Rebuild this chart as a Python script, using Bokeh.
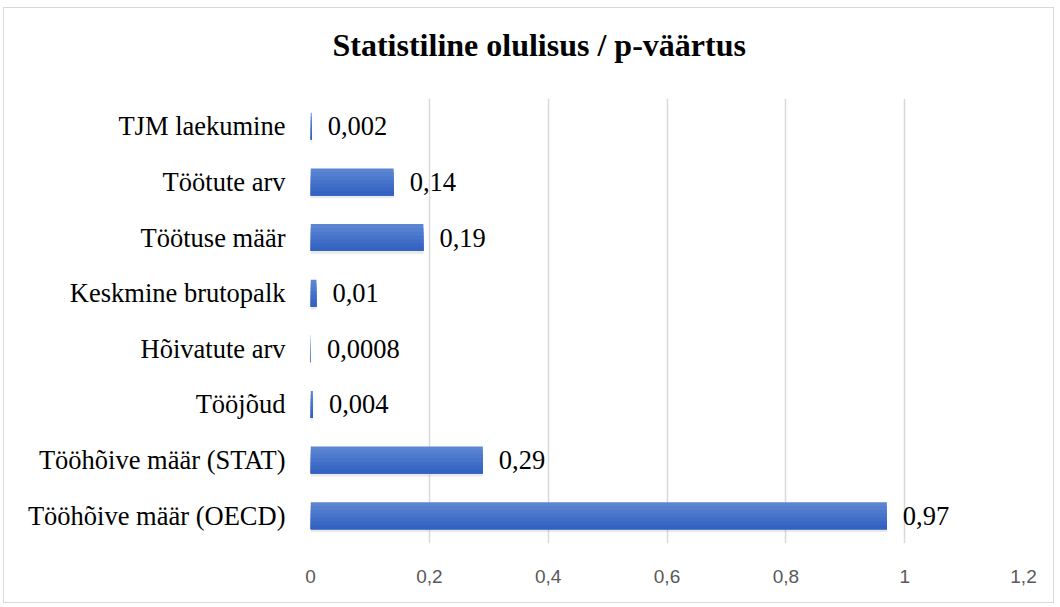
from bokeh.plotting import figure
from bokeh.models import ColumnDataSource, FixedTicker, LinearAxis
from bokeh.transform import dodge
from bokeh.core.properties import value
from bokeh.embed import file_html
from bokeh.resources import INLINE

title_text = "Statistiline olulisus / p-väärtus"
categories = ["TJM laekumine", "Töötute arv", "Töötuse määr", "Keskmine brutopalk",
              "Hõivatute arv", "Tööjõud", "Tööhõive määr (STAT)", "Tööhõive määr (OECD)"]
p_values = [0.002, 0.14, 0.19, 0.01, 0.0008, 0.004, 0.29, 0.97]
value_labels = ["0,002", "0,14", "0,19", "0,01", "0,0008", "0,004", "0,29", "0,97"]
tick_values = [0, 0.2, 0.4, 0.6, 0.8, 1.0, 1.2]
tick_labels = ["0", "0,2", "0,4", "0,6", "0,8", "1", "1,2"]

src = ColumnDataSource(dict(cat=categories, val=p_values, lab=value_labels))

p = figure(width=1051, height=596, output_backend="svg", toolbar_location=None,
           y_range=categories[::-1], x_range=(0, 1.2),
           min_border_left=306, min_border_right=32, min_border_top=90, min_border_bottom=61)
p.outline_line_color = None
p.styles = {"border": "1px solid #D9D9D9", "margin-left": "3px", "margin-top": "7px"}

xa = p.below[0]
ya = p.left[0]

# invisible spacer between frame and title: ticks and labels are not drawn,
# but the tick length still reserves vertical space
spacer = LinearAxis(ticker=FixedTicker(ticks=[0.6]), axis_line_color=None,
                    major_tick_line_color=None, minor_tick_line_color=None,
                    major_tick_out=30, major_tick_in=0, major_label_standoff=0,
                    major_label_text_font_size="1px", major_label_text_color=None)
p.add_layout(spacer, "above")

p.title.text = title_text
p.title.align = "left"
p.title.offset = 22
p.title.standoff = 12
p.title.text_font = "Liberation Serif"
p.title.text_font_style = "bold"
p.title.text_font_size = "32px"
p.title.text_color = "#000000"

# grid and axes
xa.ticker = FixedTicker(ticks=tick_values)
p.xgrid.ticker = FixedTicker(ticks=tick_values)
p.xgrid.grid_line_color = "#D9D9D9"
p.xgrid.grid_line_width = 1.5
p.ygrid.grid_line_color = None
xa.major_label_overrides = {t: l for t, l in zip(tick_values, tick_labels)}
for ax in (xa, ya):
    ax.axis_line_color = None
    ax.major_tick_line_color = None
    ax.minor_tick_line_color = None
    ax.major_tick_out = 0
    ax.major_tick_in = 0
xa.major_label_text_font = "Liberation Sans"
xa.major_label_text_font_size = "19px"
xa.major_label_text_color = "#595959"
xa.major_label_standoff = 26
ya.major_label_text_font = "Liberation Serif"
ya.major_label_text_font_size = "26.5px"
ya.major_label_text_color = "#000000"
ya.major_label_standoff = 25

# soft shadow
p.hbar(y=dodge("cat", -0.045, range=p.y_range), right="val", left=0, height=0.5,
       source=src, fill_color="#7F7F7F", fill_alpha=0.16, line_color=None)

# gradient bars (overlapping bands, lighter on top, darker at bottom)
bar_h = 0.486
shades = ["#5B84D2", "#5580D0", "#4E7ACD", "#4774CA", "#406DC6", "#3967C3", "#3362C0"]
n = len(shades)
for i, c in enumerate(shades):
    h = bar_h * (n - i) / n
    off = -bar_h / 2 + h / 2
    p.hbar(y=dodge("cat", off, range=p.y_range), right="val", left=0,
           height=h, source=src, fill_color=c, line_color=None)

p.text(x="val", y="cat", text="lab", source=src, x_offset=16,
       text_baseline="middle", text_align="left",
       text_font=value("Liberation Serif"), text_font_size="26.5px", text_color="#000000")

open("out.html", "w").write(file_html(p, INLINE))
